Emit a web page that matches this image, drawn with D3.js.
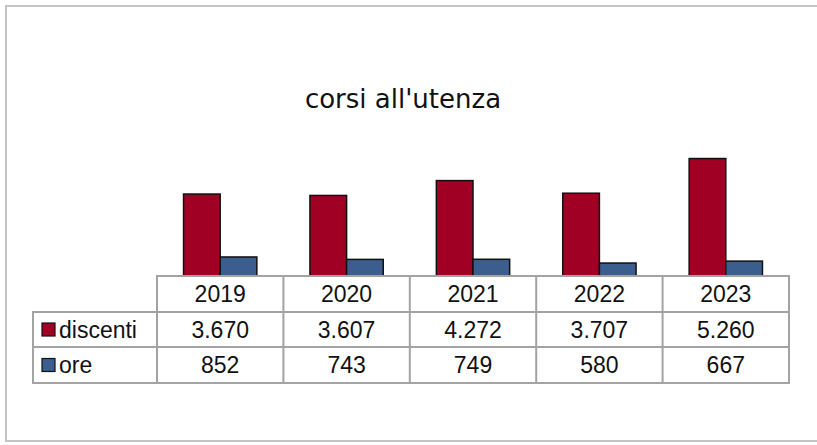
<!DOCTYPE html>
<html>
<head>
<meta charset="utf-8">
<script src="https://cdn.jsdelivr.net/npm/d3@7"></script>
<style>
  body { margin: 0; background: #fff; }
  svg { display: block; }
</style>
</head>
<body>
<svg id="chart"></svg>
<script>
const width = 817, height = 445;

// Data
const years = ["2019", "2020", "2021", "2022", "2023"];
const seriesNames = ["discenti", "ore"];
const discenti = [3670, 3607, 4272, 3707, 5260];
const ore = [852, 743, 749, 580, 667];
const colors = ["#a10025", "#3b5e8e"];

const values = [discenti, ore];
const fmt = v => d3.format(",")(v).replace(/,/g, ".");

const svg = d3.select("#chart")
    .attr("width", width)
    .attr("height", height);

// outer frame
svg.append("rect")
    .attr("x", 6).attr("y", 6)
    .attr("width", 830).attr("height", 435)
    .attr("fill", "#fff")
    .attr("stroke", "#c4c4c4")
    .attr("stroke-width", 2);

// title
svg.append("text")
    .attr("x", 403).attr("y", 108)
    .attr("text-anchor", "middle")
    .style("font-family", "DejaVu Sans, sans-serif")
    .style("font-size", "26px")
    .attr("fill", "#111")
    .text("corsi all'utenza");

// table layout
const tableLeft = 33, labelRight = 157, tableRight = 789;
const rowTops = [276, 312, 347, 383];

const x = d3.scaleBand().domain(years).range([labelRight, tableRight]);
const x1 = d3.scaleBand().domain(seriesNames)
    .range([x.bandwidth() * 0.21, x.bandwidth() * 0.79]);
const y = d3.scaleLinear().domain([0, 6000]).range([rowTops[0], 142]);

// bars
const groups = svg.append("g").selectAll("g")
    .data(years)
    .join("g")
    .attr("transform", d => `translate(${x(d)},0)`);

groups.selectAll("rect")
    .data((d, i) => seriesNames.map((s, j) => ({ s, j, v: values[j][i] })))
    .join("rect")
    .attr("x", d => x1(d.s))
    .attr("y", d => y(d.v))
    .attr("width", x1.bandwidth())
    .attr("height", d => y(0) - y(d.v))
    .attr("fill", d => colors[d.j])
    .attr("stroke", "#111")
    .attr("stroke-width", 1.5);

// table grid
const grid = svg.append("g")
    .attr("stroke", "#a3a3a3")
    .attr("stroke-width", 2)
    .attr("fill", "none");

// header row box (year columns only)
grid.append("rect")
    .attr("x", labelRight).attr("y", rowTops[0])
    .attr("width", tableRight - labelRight)
    .attr("height", rowTops[1] - rowTops[0]);
// series rows box
grid.append("rect")
    .attr("x", tableLeft).attr("y", rowTops[1])
    .attr("width", tableRight - tableLeft)
    .attr("height", rowTops[3] - rowTops[1]);
grid.append("line")
    .attr("x1", tableLeft).attr("x2", tableRight)
    .attr("y1", rowTops[2]).attr("y2", rowTops[2]);
grid.selectAll("line.col")
    .data(years)
    .join("line")
    .attr("class", "col")
    .attr("x1", d => x(d)).attr("x2", d => x(d))
    .attr("y1", rowTops[0]).attr("y2", rowTops[3]);

const textStyle = sel => sel
    .style("font-family", "Liberation Sans, Arial, sans-serif")
    .style("font-size", "23px")
    .attr("fill", "#111");

// header labels
svg.append("g").selectAll("text")
    .data(years)
    .join("text")
    .attr("x", d => x(d) + x.bandwidth() / 2)
    .attr("y", (rowTops[0] + rowTops[1]) / 2 + 8)
    .attr("text-anchor", "middle")
    .call(textStyle)
    .text(d => d);

// series rows
seriesNames.forEach((s, j) => {
    const rowMid = (rowTops[j + 1] + rowTops[j + 2]) / 2;
    svg.append("rect")
        .attr("x", 42).attr("y", rowMid - 6.5)
        .attr("width", 13).attr("height", 13)
        .attr("fill", colors[j])
        .attr("stroke", "#111")
        .attr("stroke-width", 1.2);
    svg.append("text")
        .attr("x", 59).attr("y", rowMid + 8)
        .call(textStyle)
        .text(s);
    svg.append("g").selectAll("text")
        .data(values[j])
        .join("text")
        .attr("x", (d, i) => x(years[i]) + x.bandwidth() / 2)
        .attr("y", rowMid + 8)
        .attr("text-anchor", "middle")
        .call(textStyle)
        .text(d => fmt(d));
});
</script>
</body>
</html>
